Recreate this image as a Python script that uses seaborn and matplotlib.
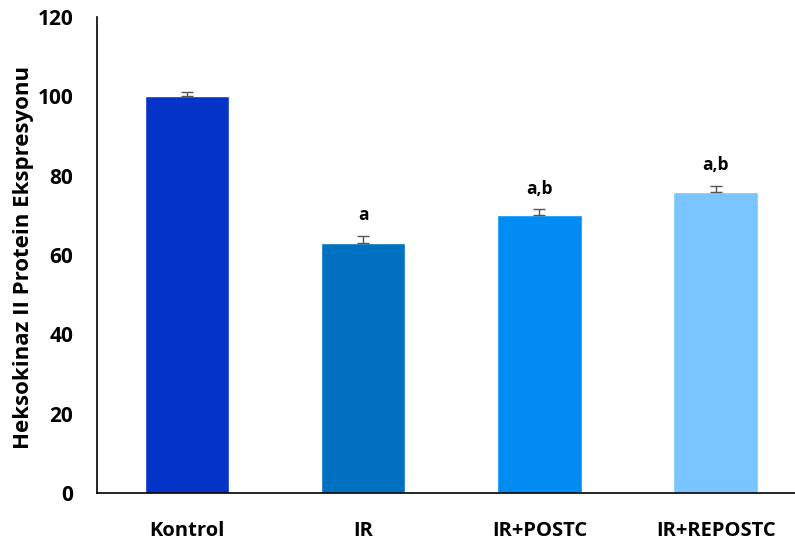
import matplotlib
matplotlib.use("Agg")
import matplotlib.pyplot as plt
import seaborn as sns
import pandas as pd

groups = ["Kontrol", "IR", "IR+POSTC", "IR+REPOSTC"]
means = [100.0, 63.0, 70.2, 75.8]
errors = [1.2, 1.8, 1.3, 1.7]
labels = ["", "a", "a,b", "a,b"]
colors = ["#0433C8", "#0070C0", "#008CF2", "#7AC4FF"]

sns.set_style("white")
plt.rcParams["font.family"] = ["Open Sans", "DejaVu Sans"]
plt.rcParams["text.color"] = "black"
plt.rcParams["xtick.color"] = "black"
plt.rcParams["ytick.color"] = "black"

df = pd.DataFrame({"grup": groups, "deger": means})

fig = plt.figure(figsize=(7.95, 5.42), dpi=100)
ax = fig.add_axes([0.122, 0.0904, 0.878, 0.878])

sns.barplot(data=df, x="grup", y="deger", hue="grup", palette=colors,
            errorbar=None, width=0.48, legend=False, ax=ax, saturation=1)
ax.errorbar(range(len(groups)), means, yerr=[[0] * len(errors), errors],
            fmt="none", ecolor="#555555", elinewidth=1, capsize=4, capthick=1)

for i, (m, e, t) in enumerate(zip(means, errors, labels)):
    if t:
        ax.text(i, m + e + 3, t, ha="center", va="bottom",
                fontsize=12.5, fontweight="bold", color="black")

ax.set_ylim(0, 120)
ax.set_yticks(range(0, 121, 20))
ax.set_xlim(-0.51, 3.45)
ax.set_xlabel("")
ax.set_ylabel("")
fig.text(24 / 795, 0.525, "Heksokinaz II Protein Ekspresyonu", rotation=90,
         ha="center", va="center", fontsize=16, fontweight="bold")
ax.tick_params(axis="y", length=0, pad=17, labelsize=15)
ax.tick_params(axis="x", length=0, pad=20, labelsize=14.5)
for lab in ax.get_xticklabels() + ax.get_yticklabels():
    lab.set_fontweight("bold")

sns.despine(ax=ax, top=True, right=True)
for s in ("left", "bottom"):
    ax.spines[s].set_color("black")
    ax.spines[s].set_linewidth(1.2)

fig.savefig("out.png", dpi=100)
